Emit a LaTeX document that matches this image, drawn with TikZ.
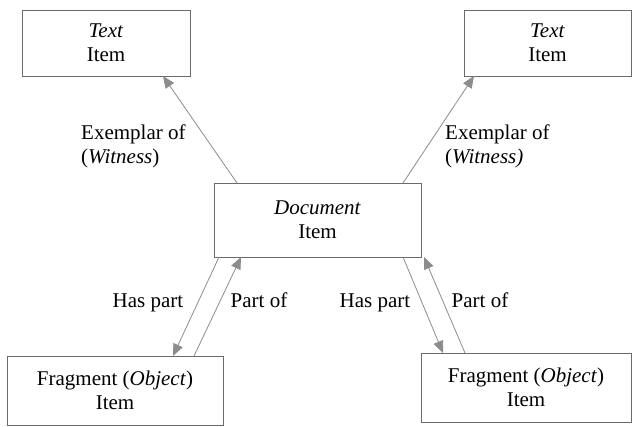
\documentclass[tikz,border=0pt]{standalone}
\usepackage{fontspec}
\setmainfont{Liberation Serif}
\usetikzlibrary{arrows.meta}
\definecolor{boxline}{gray}{0.42}
\definecolor{arrline}{gray}{0.55}
\begin{document}
\begin{tikzpicture}[x=1pt,y=-1pt,
  every node/.style={font=\fontsize{21}{24}\selectfont},
  itembox/.style={draw=boxline,line width=1pt,inner sep=0pt,outer sep=0pt,align=center},
  rel/.style={draw=arrline,line width=0.8pt,-{Triangle[length=12pt,width=10pt,fill=arrline]}},
  lbl/.style={inner sep=0pt,align=left},
  rlbl/.style={inner sep=0pt,anchor=base}]
\useasboundingbox (0,0) rectangle (632,426);
\fill[white] (0,0) rectangle (632,426);
\node[itembox,minimum width=168pt,minimum height=66pt] (t1) at (106,43) {\textit{Text}\\Item};
\node[itembox,minimum width=167pt,minimum height=66pt] (t2) at (547.5,43) {\textit{Text}\\Item};
\node[itembox,minimum width=207pt,minimum height=74pt] (doc) at (317.5,220) {\textit{Document}\\Item};
\node[itembox,minimum width=216pt,minimum height=69pt] (f1) at (115,390.5) {Fragment (\textit{Object})\\Item};
\node[itembox,minimum width=210pt,minimum height=69pt] (f2) at (526,387.5) {Fragment (\textit{Object})\\Item};
\draw[rel] ([xshift=23pt]doc.north west) -- ([xshift=141pt]t1.south west);
\draw[rel] ([xshift=-18pt]doc.north east) -- ([xshift=10pt]t2.south west);
\draw[rel] ([xshift=5pt]doc.south west) -- ([xshift=166pt]f1.north west);
\draw[rel] ([xshift=187pt]f1.north west) -- ([xshift=27pt]doc.south west);
\draw[rel] ([xshift=-18pt]doc.south east) -- ([xshift=22pt]f2.north west);
\draw[rel] ([xshift=44pt]f2.north west) -- ([xshift=3pt]doc.south east);
\node[lbl,anchor=west] (l1) at (81,146) {Exemplar of\\(\textit{Witness})};
\node[lbl,anchor=west] (l2) at (445,146) {Exemplar of\\(\textit{Witness)}};
\node[rlbl] (l3) at (148,307) {Has part};
\node[rlbl] (l4) at (259,307) {Part of};
\node[rlbl] (l5) at (375,307) {Has part};
\node[rlbl] (l6) at (480,307) {Part of};
\end{tikzpicture}
\end{document}
